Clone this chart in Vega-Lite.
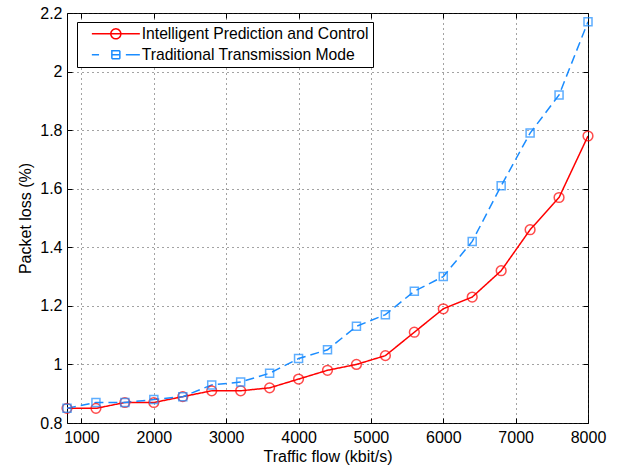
{
  "$schema": "https://vega.github.io/schema/vega-lite/v6.json",
  "width": 521,
  "height": 410,
  "autosize": {"type": "none"},
  "padding": {"left": 67, "top": 13, "right": 31, "bottom": 45},
  "background": "white",
  "config": {
    "view": {"stroke": "black", "strokeWidth": 1},
    "font": "Liberation Sans",
    "axis": {
      "labelFont": "Liberation Sans",
      "titleFont": "Liberation Sans",
      "labelFontSize": 16,
      "titleFontSize": 16,
      "titleFontWeight": "normal",
      "labelColor": "black",
      "titleColor": "black",
      "labelFlush": false,
      "domain": false,
      "tickColor": "black",
      "tickSize": -5,
      "tickWidth": 1,
      "gridColor": "#333",
      "gridDash": [1, 4],
      "gridOpacity": 0.9,
      "gridWidth": 1
    }
  },
  "data": {
    "values": [
      {"flow": 800, "loss": 0.85, "series": "Intelligent Prediction and Control"},
      {"flow": 1200, "loss": 0.85, "series": "Intelligent Prediction and Control"},
      {"flow": 1600, "loss": 0.87, "series": "Intelligent Prediction and Control"},
      {"flow": 2000, "loss": 0.87, "series": "Intelligent Prediction and Control"},
      {"flow": 2400, "loss": 0.89, "series": "Intelligent Prediction and Control"},
      {"flow": 2800, "loss": 0.91, "series": "Intelligent Prediction and Control"},
      {"flow": 3200, "loss": 0.91, "series": "Intelligent Prediction and Control"},
      {"flow": 3600, "loss": 0.92, "series": "Intelligent Prediction and Control"},
      {"flow": 4000, "loss": 0.95, "series": "Intelligent Prediction and Control"},
      {"flow": 4400, "loss": 0.98, "series": "Intelligent Prediction and Control"},
      {"flow": 4800, "loss": 1.00, "series": "Intelligent Prediction and Control"},
      {"flow": 5200, "loss": 1.03, "series": "Intelligent Prediction and Control"},
      {"flow": 5600, "loss": 1.11, "series": "Intelligent Prediction and Control"},
      {"flow": 6000, "loss": 1.19, "series": "Intelligent Prediction and Control"},
      {"flow": 6400, "loss": 1.23, "series": "Intelligent Prediction and Control"},
      {"flow": 6800, "loss": 1.32, "series": "Intelligent Prediction and Control"},
      {"flow": 7200, "loss": 1.46, "series": "Intelligent Prediction and Control"},
      {"flow": 7600, "loss": 1.57, "series": "Intelligent Prediction and Control"},
      {"flow": 8000, "loss": 1.78, "series": "Intelligent Prediction and Control"},
      {"flow": 800, "loss": 0.85, "series": "Traditional Transmission Mode"},
      {"flow": 1200, "loss": 0.87, "series": "Traditional Transmission Mode"},
      {"flow": 1600, "loss": 0.87, "series": "Traditional Transmission Mode"},
      {"flow": 2000, "loss": 0.88, "series": "Traditional Transmission Mode"},
      {"flow": 2400, "loss": 0.89, "series": "Traditional Transmission Mode"},
      {"flow": 2800, "loss": 0.93, "series": "Traditional Transmission Mode"},
      {"flow": 3200, "loss": 0.94, "series": "Traditional Transmission Mode"},
      {"flow": 3600, "loss": 0.97, "series": "Traditional Transmission Mode"},
      {"flow": 4000, "loss": 1.02, "series": "Traditional Transmission Mode"},
      {"flow": 4400, "loss": 1.05, "series": "Traditional Transmission Mode"},
      {"flow": 4800, "loss": 1.13, "series": "Traditional Transmission Mode"},
      {"flow": 5200, "loss": 1.17, "series": "Traditional Transmission Mode"},
      {"flow": 5600, "loss": 1.25, "series": "Traditional Transmission Mode"},
      {"flow": 6000, "loss": 1.30, "series": "Traditional Transmission Mode"},
      {"flow": 6400, "loss": 1.42, "series": "Traditional Transmission Mode"},
      {"flow": 6800, "loss": 1.61, "series": "Traditional Transmission Mode"},
      {"flow": 7200, "loss": 1.79, "series": "Traditional Transmission Mode"},
      {"flow": 7600, "loss": 1.92, "series": "Traditional Transmission Mode"},
      {"flow": 8000, "loss": 2.17, "series": "Traditional Transmission Mode"}
    ]
  },
  "layer": [
    {
      "mark": {"type": "line", "strokeWidth": 1.5, "clip": true},
      "encoding": {
        "x": {
          "field": "flow", "type": "quantitative",
          "scale": {"domain": [800, 8000], "nice": false, "zero": false},
          "axis": {
            "orient": "bottom",
            "values": [1000, 2000, 3000, 4000, 5000, 6000, 7000, 8000],
            "format": "d",
            "labelPadding": 11,
            "title": "Traffic flow (kbit/s)",
            "titlePadding": 3,
            "grid": true
          }
        },
        "y": {
          "field": "loss", "type": "quantitative",
          "scale": {"domain": [0.8, 2.2], "nice": false, "zero": false},
          "axis": {
            "orient": "left",
            "values": [0.8, 1, 1.2, 1.4, 1.6, 1.8, 2, 2.2],
            "format": "~g",
            "labelPadding": 10,
            "title": "Packet loss (%)",
            "titlePadding": 6,
            "grid": true
          }
        },
        "color": {
          "field": "series", "type": "nominal",
          "scale": {
            "domain": ["Intelligent Prediction and Control", "Traditional Transmission Mode"],
            "range": ["#ff0000", "#1a8cff"]
          },
          "legend": {
            "orient": "none",
            "legendX": 10,
            "legendY": 9,
            "title": null,
            "strokeColor": "black",
            "fillColor": "white",
            "padding": 4,
            "symbolSize": 64,
            "symbolOffset": 27,
            "labelOffset": 18,
            "labelFont": "Liberation Sans",
            "labelFontSize": 15.7,
            "labelColor": "black",
            "labelLimit": 400,
            "rowPadding": 4,
            "symbolStrokeWidth": 1.5,
            "encode": {
              "symbols": {
                "update": {
                  "shape": {"signal": "datum.value === 'Intelligent Prediction and Control' ? 'M-6,0H6M1.25,0A1.25,1.25 0 1 1 -1.25,0A1.25,1.25 0 1 1 1.25,0' : 'M-6,0H-4.2M2.5,0H6M-1,-1H1V1H-1ZM-1,0H1'"},
                  "fill": {"value": "transparent"},
                  "strokeDash": {"value": [1, 0]}
                }
              }
            }
          }
        },
        "strokeDash": {
          "condition": {"test": "datum.series === 'Traditional Transmission Mode'", "value": [9, 5]},
          "value": [1, 0]
        }
      }
    },
    {
      "mark": {"type": "point", "filled": false, "strokeWidth": 1.5, "clip": false},
      "encoding": {
        "x": {
          "field": "flow", "type": "quantitative",
          "scale": {"domain": [800, 8000], "nice": false, "zero": false},
          "axis": {
            "orient": "top",
            "values": [1000, 2000, 3000, 4000, 5000, 6000, 7000, 8000],
            "labels": false,
            "title": null,
            "grid": false
          }
        },
        "y": {
          "field": "loss", "type": "quantitative",
          "scale": {"domain": [0.8, 2.2], "nice": false, "zero": false},
          "axis": {
            "orient": "right",
            "values": [0.8, 1, 1.2, 1.4, 1.6, 1.8, 2, 2.2],
            "labels": false,
            "title": null,
            "grid": false
          }
        },
        "color": {
          "condition": {"test": "datum.series === 'Traditional Transmission Mode'", "value": "#1a8cff"},
          "value": "#ff0000"
        },
        "shape": {
          "condition": {"test": "datum.series === 'Traditional Transmission Mode'", "value": "square"},
          "value": "circle"
        },
        "size": {
          "condition": {"test": "datum.series === 'Traditional Transmission Mode'", "value": 64},
          "value": 95
        }
      }
    }
  ],
  "resolve": {"axis": {"x": "independent", "y": "independent"}}
}
